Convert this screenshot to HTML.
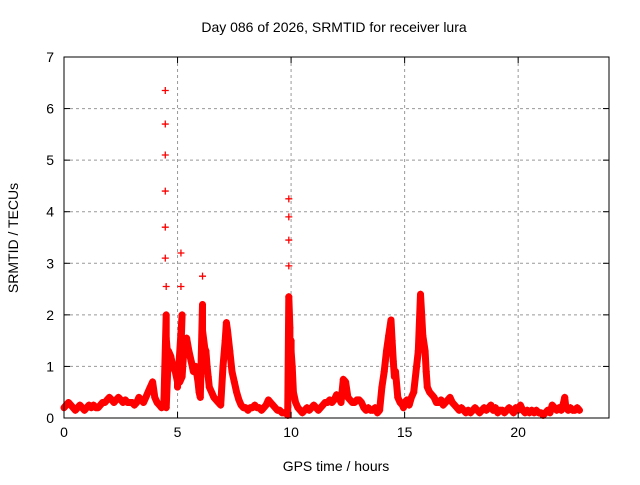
<!DOCTYPE html>
<html><head><meta charset="utf-8"><style>
body{margin:0;background:#fff;font-family:"Liberation Sans",sans-serif}
svg text{font-family:"Liberation Sans",sans-serif;font-size:14px;fill:#000}
</style></head><body>
<svg id="c" width="640" height="480">
<text x="334" y="32" text-anchor="middle">Day 086 of 2026, SRMTID for receiver lura</text>
<text x="336" y="471" text-anchor="middle">GPS time / hours</text>
<text transform="translate(18,238) rotate(-90)" text-anchor="middle">SRMTID / TECUs</text>
<g id="grid"></g><g id="marks"></g><g id="axes"></g>
</svg>
<script>
const xTicks=[0,5,10,15,20];
const yTicks=[0,1,2,3,4,5,6,7];
const samples=[
[0,0.2],[0.1,0.25],[0.2,0.3],[0.3,0.25],[0.4,0.2],[0.5,0.15],[0.6,0.2],[0.7,0.25],[0.8,0.2],[0.9,0.15],[1.0,0.2],[1.1,0.25],[1.2,0.2],[1.3,0.25],[1.4,0.2],[1.5,0.2],[1.6,0.25],[1.7,0.3],[1.8,0.3],[1.9,0.35],
[2.0,0.4],[2.1,0.35],[2.2,0.3],[2.3,0.35],[2.4,0.4],[2.5,0.35],[2.6,0.3],[2.7,0.35],[2.8,0.3],[2.9,0.3],
[3.0,0.3],[3.1,0.25],[3.2,0.3],[3.3,0.4],[3.4,0.35],[3.5,0.3],[3.6,0.4],[3.7,0.5],[3.8,0.6],[3.9,0.7],
[4.0,0.4],[4.1,0.3],[4.2,0.25],[4.3,0.2],[4.4,0.3],
[4.46,6.35],[4.46,5.7],[4.46,5.1],[4.46,4.4],[4.46,3.7],[4.46,3.1],[4.5,2.55],[4.5,2.0],[4.5,1.55],[4.55,1.3],[4.5,0.4],[4.5,0.2],
[4.6,1.3],[4.7,1.2],[4.8,1.0],[4.9,0.9],[5.0,0.7],[5.0,0.6],[5.15,3.2],[5.15,2.55],[5.2,2.0],
[5.1,0.7],[5.2,0.8],[5.3,1.5],[5.4,1.55],[5.5,1.3],[5.6,1.1],[5.7,0.9],[5.8,1.0],[5.9,0.7],[5.95,0.5],
[6.0,0.4],[6.1,2.75],[6.1,2.2],[6.1,1.7],[6.2,1.35],[6.25,1.3],[6.3,1.0],[6.35,0.8],[6.4,0.6],
[6.5,0.5],[6.6,0.4],[6.7,0.35],[6.8,0.3],[6.9,0.25],
[7.0,1.0],[7.1,1.5],[7.15,1.85],[7.2,1.7],[7.3,1.3],[7.4,0.9],[7.5,0.7],[7.6,0.5],[7.7,0.35],[7.8,0.25],[7.9,0.2],
[8.0,0.2],[8.1,0.15],[8.2,0.2],[8.3,0.2],[8.4,0.25],[8.5,0.2],[8.6,0.2],[8.7,0.15],[8.8,0.2],[8.9,0.25],[9.0,0.35],[9.1,0.3],[9.2,0.25],[9.3,0.2],[9.4,0.15],
[9.5,0.15],[9.6,0.1],[9.7,0.1],[9.8,0.1],[9.85,0.05],
[9.9,4.25],[9.9,3.9],[9.9,3.45],[9.9,2.95],[9.9,2.35],[9.95,1.75],[9.95,1.2],[9.9,0.6],[10.0,1.5],[10.0,1.3],[10.05,1.0],
[10.1,0.5],[10.2,0.3],[10.3,0.2],[10.4,0.15],[10.5,0.1],[10.6,0.15],[10.7,0.2],[10.8,0.15],[10.9,0.2],[11.0,0.25],[11.1,0.2],[11.2,0.15],[11.3,0.2],[11.4,0.25],[11.5,0.3],[11.6,0.3],[11.7,0.35],[11.8,0.3],[11.9,0.35],
[12.0,0.45],[12.1,0.4],[12.2,0.3],[12.3,0.75],[12.4,0.7],[12.5,0.4],[12.6,0.35],[12.7,0.3],[12.8,0.3],[12.9,0.35],
[13.0,0.35],[13.1,0.3],[13.2,0.2],[13.3,0.15],[13.4,0.2],[13.5,0.15],[13.6,0.15],[13.7,0.2],[13.8,0.1],[13.9,0.15],
[14.0,0.6],[14.1,0.9],[14.2,1.3],[14.3,1.6],[14.4,1.9],[14.45,1.5],[14.5,1.1],[14.55,0.8],[14.6,0.9],[14.7,0.4],[14.8,0.3],[14.9,0.25],[14.95,0.2],
[15.0,0.3],[15.1,0.35],[15.2,0.25],[15.3,0.4],[15.4,0.5],[15.5,0.9],[15.6,1.3],[15.7,2.4],[15.75,2.0],[15.8,1.6],[15.9,1.3],[15.95,0.9],
[16.0,0.6],[16.1,0.5],[16.2,0.45],[16.3,0.4],[16.4,0.3],[16.5,0.3],[16.6,0.35],[16.7,0.25],[16.8,0.3],[16.9,0.35],[17.0,0.4],[17.1,0.3],[17.2,0.25],[17.3,0.2],[17.4,0.15],[17.5,0.2],[17.6,0.15],[17.7,0.1],[17.8,0.15],[17.9,0.1],
[18.0,0.15],[18.1,0.2],[18.2,0.15],[18.3,0.1],[18.4,0.15],[18.5,0.2],[18.6,0.15],[18.7,0.2],[18.8,0.25],[18.9,0.15],[19.0,0.2],[19.1,0.1],[19.2,0.15],[19.3,0.15],[19.4,0.1],[19.5,0.15],[19.6,0.2],[19.7,0.15],[19.8,0.1],[19.9,0.2],
[20.0,0.15],[20.1,0.25],[20.2,0.15],[20.3,0.1],[20.4,0.15],[20.5,0.1],[20.6,0.15],[20.7,0.1],[20.8,0.15],[20.9,0.1],[21.0,0.1],[21.1,0.05],[21.2,0.1],[21.3,0.15],[21.4,0.1],[21.5,0.25],[21.6,0.2],[21.7,0.15],[21.8,0.2],[21.9,0.15],
[22.0,0.3],[22.05,0.4],[22.1,0.2],[22.2,0.15],[22.3,0.2],[22.4,0.15],[22.5,0.15],[22.6,0.2],[22.7,0.15]
];
const L=64,R=609,T=57,B=418,XMAX=24,YMAX=7,BAND_MAX=2.5;
const sx=t=>L+(R-L)*t/XMAX, sy=v=>B-(B-T)*v/YMAX;
const NS='http://www.w3.org/2000/svg';
function mk(tag,attrs,parent){const e=document.createElementNS(NS,tag);for(const k in attrs)e.setAttribute(k,attrs[k]);parent.appendChild(e);return e;}
const grid=document.getElementById('grid'),marks=document.getElementById('marks'),axes=document.getElementById('axes');
xTicks.forEach(t=>{const x=sx(t);
 if(t>0){const g=mk('line',{x1:x,x2:x,y1:T,y2:B,stroke:'#999','stroke-dasharray':'3,3'},grid);
 
 }
 mk('line',{x1:x,x2:x,y1:B,y2:B-6,stroke:'#000'},axes);
 mk('line',{x1:x,x2:x,y1:T,y2:T+6,stroke:'#000'},axes);
 const l=mk('text',{x:x,y:B+19,'text-anchor':'middle'},axes);l.textContent=t;
 
 
});
yTicks.forEach(v=>{const y=sy(v);
 if(v>0&&v<YMAX){const g=mk('line',{x1:L,x2:R,y1:y,y2:y,stroke:'#999','stroke-dasharray':'3,3'},grid);
 
 }
 mk('line',{x1:L,x2:L+6,y1:y,y2:y,stroke:'#000'},axes);
 mk('line',{x1:R,x2:R-6,y1:y,y2:y,stroke:'#000'},axes);
 const l=mk('text',{x:L-10,y:y+5,'text-anchor':'end'},axes);l.textContent=v;
 
 
});
const fr=mk('rect',{x:L,y:T,width:R-L,height:B-T,fill:'none',stroke:'#000'},axes);


const band=samples.filter(p=>p[1]<BAND_MAX).map(p=>sx(p[0]).toFixed(1)+','+sy(p[1]).toFixed(1)).join(' ');
const bl=mk('polyline',{points:band,fill:'none',stroke:'#f00','stroke-width':7,'stroke-linejoin':'round','stroke-linecap':'round'},marks);


samples.forEach(p=>{const x=sx(p[0]),y=sy(p[1]);
 const m=mk('path',{d:`M${x-3.5},${y}H${x+3.5}M${x},${y-3.5}V${y+3.5}`,stroke:'#f00','stroke-width':1.3},marks);
 
 
});
</script>
</body></html>
